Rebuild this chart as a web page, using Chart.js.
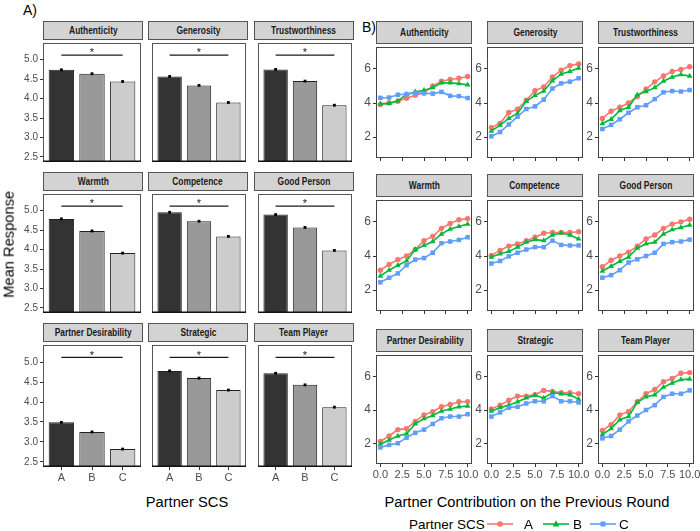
<!DOCTYPE html>
<html>
<head>
<meta charset="utf-8">
<script src="https://cdn.jsdelivr.net/npm/chart.js@4.4.0/dist/chart.umd.min.js"></script>
<style>
body { margin: 0; width: 700px; height: 531px; background: #fff; position: relative; overflow: hidden;
       font-family: "Liberation Sans", Arial, sans-serif; }
.box { position: absolute; }
.strip { position: absolute; box-sizing: border-box; border: 1px solid #555; background: #d3d3d3;
         font: bold 10.5px "Liberation Sans", Arial, sans-serif;
         color: #1a1a1a; text-align: center; white-space: nowrap; overflow: visible; }
.strip span { display: inline-block; transform: scaleX(0.8); transform-origin: center; }
.txt { position: absolute; white-space: nowrap; color: #000; line-height: 1; }
</style>
</head>
<body>
<script>
const groups = ['A', 'B', 'C'];
const facets = ['Authenticity', 'Generosity', 'Trustworthiness', 'Warmth', 'Competence',
                'Good Person', 'Partner Desirability', 'Strategic', 'Team Player'];

// A) mean response by partner SCS
const meanA = [4.74, 4.57, 4.75, 4.79, 4.96, 4.90, 3.49, 4.78, 4.72];
const meanB = [4.64, 4.34, 4.45, 4.48, 4.73, 4.57, 3.25, 4.60, 4.43];
const meanC = [4.44, 3.90, 3.83, 3.91, 4.34, 3.98, 2.82, 4.30, 3.87];
const sigLevel = 5.12;
const barTicks = [2.5, 3.0, 3.5, 4.0, 4.5, 5.0];

// B) mean response by partner contribution on the previous round
const contribution = [0, 1, 2, 3, 4, 5, 6, 7, 8, 9, 10];
const contribTicks = [0, 2.5, 5, 7.5, 10];
const lineTicks = [2, 4, 6];
const trendA = [
  [3.92, 4.00, 4.10, 4.28, 4.45, 4.60, 5.00, 5.28, 5.38, 5.45, 5.55],
  [2.56, 2.81, 3.45, 3.64, 4.16, 4.72, 4.94, 5.52, 5.92, 6.19, 6.29],
  [3.10, 3.52, 3.75, 4.00, 4.38, 4.82, 5.24, 5.58, 5.85, 5.96, 6.13],
  [3.17, 3.50, 3.79, 4.00, 4.38, 4.90, 5.15, 5.62, 5.90, 6.12, 6.19],
  [4.04, 4.33, 4.58, 4.71, 4.90, 5.10, 5.33, 5.38, 5.38, 5.38, 5.42],
  [3.37, 3.75, 4.00, 4.23, 4.58, 5.00, 5.23, 5.62, 5.87, 6.00, 6.15],
  [2.12, 2.45, 2.83, 2.89, 3.32, 3.71, 3.90, 4.19, 4.33, 4.49, 4.50],
  [4.06, 4.29, 4.58, 4.83, 4.83, 4.91, 5.17, 5.11, 5.03, 5.03, 4.97],
  [2.78, 3.13, 3.71, 3.90, 4.49, 4.97, 5.22, 5.69, 5.88, 6.19, 6.23]
];
const trendB = [
  [3.95, 3.98, 4.12, 4.50, 4.65, 4.75, 4.90, 5.18, 5.18, 5.14, 5.06],
  [2.35, 2.70, 3.10, 3.40, 4.10, 4.45, 4.70, 5.30, 5.70, 5.85, 6.05],
  [2.80, 3.05, 3.56, 3.75, 4.48, 4.67, 4.90, 5.28, 5.52, 5.66, 5.58],
  [2.83, 3.17, 3.46, 3.71, 4.38, 4.62, 4.85, 5.29, 5.58, 5.73, 5.87],
  [3.94, 4.13, 4.27, 4.52, 4.81, 4.96, 4.90, 5.23, 5.35, 5.23, 5.00],
  [3.12, 3.40, 3.69, 3.94, 4.46, 4.71, 4.81, 5.29, 5.54, 5.67, 5.81],
  [1.96, 2.21, 2.45, 2.58, 3.17, 3.48, 3.67, 3.94, 4.06, 4.19, 4.23],
  [3.94, 4.14, 4.29, 4.49, 4.72, 4.87, 4.72, 5.03, 4.97, 4.91, 4.64],
  [2.54, 2.89, 3.42, 3.61, 4.45, 4.78, 4.91, 5.36, 5.61, 5.81, 5.84]
];
const trendC = [
  [4.30, 4.32, 4.48, 4.52, 4.60, 4.57, 4.55, 4.65, 4.42, 4.40, 4.29],
  [2.05, 2.30, 2.75, 3.20, 3.65, 3.80, 4.20, 4.85, 5.15, 5.25, 5.45],
  [2.48, 2.72, 3.05, 3.43, 3.75, 3.87, 4.23, 4.63, 4.70, 4.67, 4.76],
  [2.46, 2.73, 2.98, 3.46, 3.79, 3.88, 4.19, 4.75, 4.85, 4.94, 5.10],
  [3.56, 3.71, 3.98, 4.19, 4.38, 4.52, 4.52, 4.90, 4.65, 4.62, 4.62],
  [2.73, 2.88, 3.17, 3.62, 3.81, 4.00, 4.19, 4.71, 4.81, 4.85, 4.96],
  [1.77, 1.92, 2.02, 2.35, 2.64, 2.83, 3.17, 3.51, 3.61, 3.61, 3.75],
  [3.61, 3.86, 4.14, 4.19, 4.39, 4.52, 4.52, 4.83, 4.52, 4.52, 4.45],
  [2.31, 2.45, 2.83, 3.32, 3.67, 4.00, 4.29, 4.78, 4.97, 4.97, 5.17]
];

const barFill = ['#333333', '#999999', '#cccccc'];
const lineColors = ['#F8766D', '#00BA38', '#619CFF'];
const markers = ['circle', 'triangle', 'rect'];
const markerSize = [2.7, 3.3, 3.2];

Chart.defaults.font.family = '"Liberation Sans", Arial, sans-serif';

// panel frame drawn round the plot area
const framePlugin = {
  id: 'frame',
  afterDatasetsDraw(chart, args, opts) {
    const a = chart.chartArea, ctx = chart.ctx;
    ctx.save();
    ctx.strokeStyle = opts.color;
    ctx.lineWidth = 1;
    ctx.strokeRect(Math.round(a.left) + 0.5, Math.round(a.top) + 0.5,
                   Math.round(a.right - a.left) - 1, Math.round(a.bottom - a.top) - 1);
    if (opts.base) {
      ctx.strokeStyle = opts.base;
      ctx.lineWidth = 1.4;
      ctx.beginPath();
      ctx.moveTo(a.left, a.bottom - 0.7);
      ctx.lineTo(a.right, a.bottom - 0.7);
      ctx.stroke();
    }
    ctx.restore();
  }
};

// star above the significance bracket
const starPlugin = {
  id: 'star',
  afterDatasetsDraw(chart, args, opts) {
    if (!opts.show) return;
    const ctx = chart.ctx;
    ctx.save();
    ctx.fillStyle = '#1a1a1a';
    ctx.font = '11px "Liberation Sans", Arial, sans-serif';
    ctx.textAlign = 'center';
    ctx.textBaseline = 'alphabetic';
    ctx.fillText('*', chart.scales.x.getPixelForValue(1), chart.scales.y.getPixelForValue(sigLevel) + 1.3);
    ctx.restore();
  }
};

function addDiv(cls, left, top, w, h) {
  const d = document.createElement('div');
  d.className = cls;
  d.style.left = left + 'px';
  d.style.top = top + 'px';
  if (w != null) d.style.width = w + 'px';
  if (h != null) d.style.height = h + 'px';
  document.body.appendChild(d);
  return d;
}

function addStrip(text, left, top, w, h) {
  const s = addDiv('strip', left, top, w, h);
  s.style.lineHeight = (h - 2) + 'px';
  const span = document.createElement('span');
  span.textContent = text;
  s.appendChild(span);
}

function addText(text, left, top, size, extra) {
  const t = addDiv('txt', left, top);
  t.style.fontSize = size + 'px';
  t.textContent = text;
  if (extra) Object.assign(t.style, extra);
  return t;
}

function makeCanvas(L, T, W, H, yW, xH, padR) {
  const d = addDiv('box', L - yW, T - 1, yW + W + padR, H + 1 + xH);
  const c = document.createElement('canvas');
  d.appendChild(c);
  return c;
}

function axis(opts) {
  return Object.assign({
    type: 'linear',
    offset: false,
    grid: { offset: false, drawOnChartArea: false, tickLength: 3, color: '#333', lineWidth: 1 },
    border: { display: false }
  }, opts);
}

// ---- Panel A: bar facets ----
const colsA = [43, 148, 254], widthA = 100;
const topsA = [40, 191, 342], heightsA = [126, 126, 125], stripA = 19;

facets.forEach((name, i) => {
  const row = Math.floor(i / 3), col = i % 3;
  const L = colsA[col], T = topsA[row], W = widthA, H = heightsA[row];
  addStrip(name, L, T - stripA, W, stripA);
  const showY = col === 0, showX = row === 2;
  const yW = showY ? 28 : 0, xH = showX ? 22 : 0;
  const vals = [meanA[i], meanB[i], meanC[i]];
  const pts = vals.map((v, k) => ({ x: k, y: v }));
  new Chart(makeCanvas(L, T, W, H, yW, xH, 2), {
    type: 'bar',
    data: {
      datasets: [
        { type: 'line', data: [{ x: 0, y: sigLevel }, { x: 2, y: sigLevel }], borderColor: '#1a1a1a',
          borderWidth: 1.2, pointRadius: 0, order: 0 },
        { type: 'line', data: pts, showLine: false, pointStyle: 'rect', pointRadius: 2,
          backgroundColor: '#000', borderColor: '#000', pointBorderWidth: 0, order: 1 },
        { data: pts, backgroundColor: barFill, borderColor: '#222', borderWidth: 1,
          barPercentage: 0.83, categoryPercentage: 1, order: 2 }
      ]
    },
    options: {
      responsive: true, maintainAspectRatio: false, animation: false,
      layout: { padding: { top: 1, right: 2, left: 0, bottom: 0 } },
      plugins: { legend: { display: false }, tooltip: { enabled: false },
                 frame: { color: '#555', base: '#111' }, star: { show: true } },
      scales: {
        x: axis({
          min: -0.6, max: 2.6, display: showX,
          afterBuildTicks: s => { s.ticks = [0, 1, 2].map(v => ({ value: v })); },
          afterFit: s => { s.height = xH; s.paddingLeft = 0; s.paddingRight = 0; },
          ticks: { callback: v => groups[v], color: '#4d4d4d', font: { size: 11 }, padding: 1,
                   autoSkip: false, maxRotation: 0, minRotation: 0 }
        }),
        y: axis({
          min: 2.37, max: 5.43, beginAtZero: false, display: showY,
          afterBuildTicks: s => { s.ticks = barTicks.map(v => ({ value: v })); },
          afterFit: s => { s.width = yW; s.paddingTop = 0; s.paddingBottom = 0; },
          ticks: { callback: v => v.toFixed(1), color: '#4d4d4d', font: { size: 10 }, padding: 2 }
        })
      }
    },
    plugins: [framePlugin, starPlugin]
  });
});

// ---- Panel B: line facets ----
const colsB = [376, 487, 598], widthB = 96;
const topsB = [44, 197, 352], heightsB = [114, 114, 112], stripB = 23;

facets.forEach((name, i) => {
  const row = Math.floor(i / 3), col = i % 3;
  const L = colsB[col], T = topsB[row], W = widthB, H = heightsB[row];
  addStrip(name, L, T - stripB, W, stripB);
  const yW = 20, xH = row === 2 ? 22 : 4;
  const series = [trendA[i], trendB[i], trendC[i]];
  new Chart(makeCanvas(L, T, W, H, yW, xH, 10), {
    type: 'line',
    data: {
      datasets: series.map((s, k) => ({
        label: groups[k],
        data: s.map((v, j) => ({ x: contribution[j], y: v })),
        borderColor: lineColors[k], backgroundColor: lineColors[k],
        pointStyle: markers[k], pointRadius: markerSize[k], pointBorderWidth: 0,
        borderWidth: 1.6, tension: 0, order: 2 - k
      }))
    },
    options: {
      responsive: true, maintainAspectRatio: false, animation: false,
      layout: { padding: { top: 1, right: 10, left: 0, bottom: 0 } },
      plugins: { legend: { display: false }, tooltip: { enabled: false },
                 frame: { color: '#444' }, star: { show: false } },
      scales: {
        x: axis({
          min: -0.5, max: 10.5,
          afterBuildTicks: s => { s.ticks = contribTicks.map(v => ({ value: v })); },
          afterFit: s => { s.height = xH; s.paddingLeft = 0; s.paddingRight = 0; },
          ticks: { callback: v => row === 2 ? v.toFixed(1) : '', color: '#4d4d4d', font: { size: 11 },
                   padding: 1, autoSkip: false, maxRotation: 0, minRotation: 0 }
        }),
        y: axis({
          min: 0.78, max: 7.28,
          afterBuildTicks: s => { s.ticks = lineTicks.map(v => ({ value: v })); },
          afterFit: s => { s.width = yW; s.paddingTop = 0; s.paddingBottom = 0; },
          ticks: { callback: v => String(v), color: '#4d4d4d', font: { size: 12 }, padding: 2 }
        })
      }
    },
    plugins: [framePlugin, starPlugin]
  });
});

// ---- titles ----
addText('A)', 23, 3, 14);
addText('B)', 362, 20, 14);
addText('Mean Response', -91, 236.6, 14.7, { width: '200px', textAlign: 'center', transform: 'rotate(-90deg)' });
addText('Partner SCS', 87, 494.6, 14.7, { width: '200px', textAlign: 'center' });
addText('Partner Contribution on the Previous Round', 377, 494.6, 14.7, { width: '300px', textAlign: 'center' });

// ---- legend of panel B ----
addText('Partner SCS', 409, 517.6, 13.5);
const keyLeft = [487, 543, 590];
const labelLeft = [524, 573, 619];
groups.forEach((g, k) => {
  const svg = document.createElementNS('http://www.w3.org/2000/svg', 'svg');
  svg.setAttribute('width', 26);
  svg.setAttribute('height', 12);
  svg.style.position = 'absolute';
  svg.style.left = keyLeft[k] + 'px';
  svg.style.top = '518px';
  let mark;
  if (k === 0) mark = `<circle cx="13" cy="6" r="2.8" fill="${lineColors[k]}"/>`;
  else if (k === 1) mark = `<polygon points="13,2.2 16.4,8.6 9.6,8.6" fill="${lineColors[k]}"/>`;
  else mark = `<rect x="10.5" y="3.5" width="5" height="5" fill="${lineColors[k]}"/>`;
  svg.innerHTML = `<line x1="0" y1="6" x2="26" y2="6" stroke="${lineColors[k]}" stroke-width="1.6"/>` + mark;
  document.body.appendChild(svg);
  addText(g, labelLeft[k], 517.6, 13.5);
});
</script>
</body>
</html>
